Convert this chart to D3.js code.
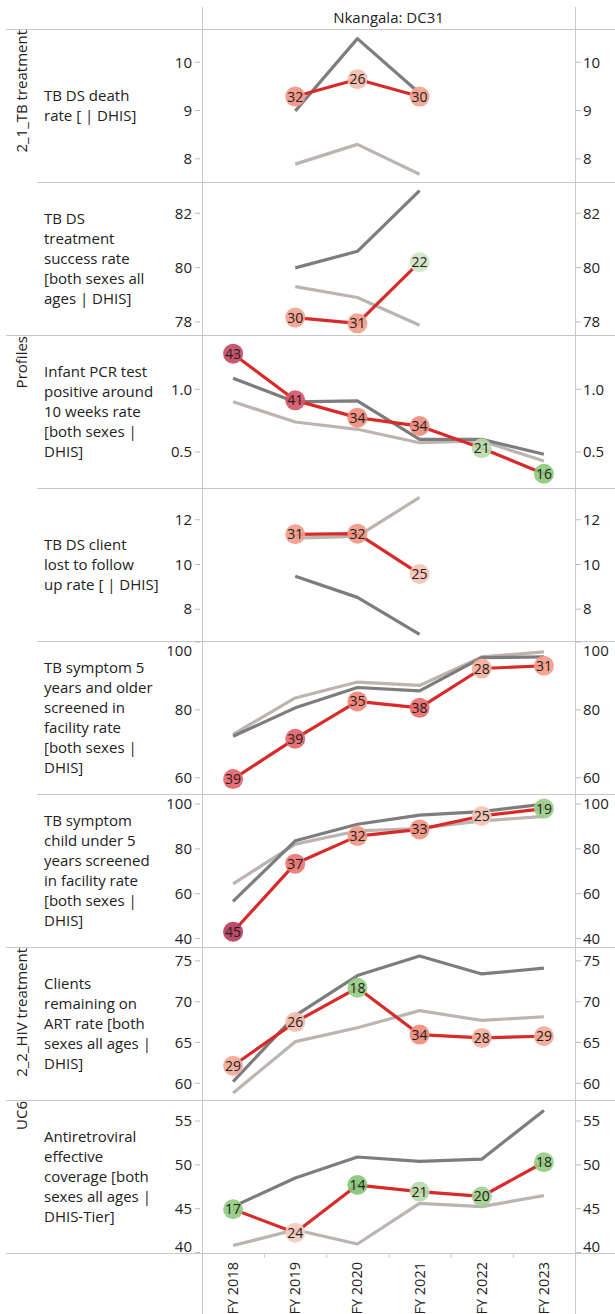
<!DOCTYPE html>
<html>
<head>
<meta charset="utf-8">
<script src="https://cdn.jsdelivr.net/npm/d3@7"></script>
<style>
  body { margin: 0; background: #fff; }
  text { font-family: "Open Sans", sans-serif; fill: #222; }
</style>
</head>
<body>
<script>
// categories
var years = ["FY 2018", "FY 2019", "FY 2020", "FY 2021", "FY 2022", "FY 2023"];
var title = "Nkangala: DC31";

// row labels, already broken into lines like the original
var indicatorLines = [
  ["TB DS death", "rate [ | DHIS]"],
  ["TB DS", "treatment", "success rate", "[both sexes all", "ages | DHIS]"],
  ["Infant PCR test", "positive around", "10 weeks rate", "[both sexes |", "DHIS]"],
  ["TB DS client", "lost to follow", "up rate [ | DHIS]"],
  ["TB symptom 5", "years and older", "screened in", "facility rate", "[both sexes |", "DHIS]"],
  ["TB symptom", "child under 5", "years screened", "in facility rate", "[both sexes |", "DHIS]"],
  ["Clients", "remaining on", "ART rate [both", "sexes all ages |", "DHIS]"],
  ["Antiretroviral", "effective", "coverage [both", "sexes all ages |", "DHIS-Tier]"]
];

var groupNames = ["2_1_TB treatment", "Profiles", "2_2_HIV treatment", "UC6"];
var groupStart = [0, 2, 6, 7];
var groupEnd = [2, 6, 7, 8];

// district (red line)
var district = [
  [null, 9.29, 9.65, 9.29, null, null],
  [null, 78.16, 77.95, 80.2, null, null],
  [1.284, 0.912, 0.774, 0.707, 0.53, 0.327],
  [null, 11.35, 11.38, 9.58, null, null],
  [59.6, 71.5, 82.5, 80.6, 92.2, 93.0],
  [43.0, 73.4, 85.7, 88.7, 94.7, 98.0],
  [62.15, 67.5, 71.7, 65.97, 65.56, 65.76],
  [44.94, 42.27, 47.7, 46.95, 46.4, 50.3]
];

// province (dark grey line)
var province = [
  [null, 8.99, 10.49, 9.36, null, null],
  [null, 79.99, 80.6, 82.83, null, null],
  [1.088, 0.899, 0.907, 0.601, 0.601, 0.482],
  [null, 9.47, 8.53, 6.88, null, null],
  [72.2, 80.6, 86.6, 85.6, 95.4, 95.6],
  [56.6, 83.6, 91.0, 95.1, 96.6, 100.0],
  [60.2, 68.3, 73.2, 75.6, 73.4, 74.1],
  [45.24, 48.5, 50.9, 50.4, 50.65, 56.2]
];

// national (light grey line)
var national = [
  [null, 7.89, 8.30, 7.68, null, null],
  [null, 79.3, 78.9, 77.88, null, null],
  [0.901, 0.739, 0.681, 0.574, 0.588, 0.428],
  [null, 11.18, 11.26, 13.0, null, null],
  [72.8, 83.5, 88.2, 87.2, 95.6, 97.1],
  [64.4, 82.1, 88.0, 89.1, 92.5, 94.5],
  [58.8, 65.1, 66.8, 68.9, 67.7, 68.15],
  [40.8, 42.6, 40.98, 45.6, 45.24, 46.5]
];

// district rank shown in the circles
var ranks = [
  [null, 32, 26, 30, null, null],
  [null, 30, 31, 22, null, null],
  [43, 41, 34, 34, 21, 16],
  [null, 31, 32, 25, null, null],
  [39, 39, 35, 38, 28, 31],
  [45, 37, 32, 33, 25, 19],
  [29, 26, 18, 34, 28, 29],
  [17, 24, 14, 21, 20, 18]
];

// axis ranges and tick labels per row
var yDomains = [
  [7.52, 10.69], [77.52, 83.15], [0.213, 1.433], [6.58, 13.42],
  [55.2, 100.3], [36.2, 104.5], [57.95, 76.7], [39.95, 57.4]
];
var yTicks = [
  [8, 9, 10], [78, 80, 82], [0.5, 1.0], [8, 10, 12],
  [60, 80, 100], [40, 60, 80, 100], [60, 65, 70, 75], [40, 45, 50, 55]
];
var tickFormats = ["d", "d", ".1f", "d", "d", "d", "d", "d"];

// layout
var W = 615, H = 1314;
var plotLeft = 202, plotRight = 575;
var top0 = 29, rowH = 153;
var bottom = top0 + rowH * indicatorLines.length;
var gridColor = "#c8c8c8";

var svg = d3.select("body").append("svg")
    .attr("width", W)
    .attr("height", H);

svg.append("rect").attr("width", W).attr("height", H).attr("fill", "#fff");

var x = d3.scaleBand()
    .domain(years)
    .range([plotLeft, plotRight])
    .padding(0);
var cx = function(i) { return x(years[i]) + x.bandwidth() / 2; };

var rankColor = d3.scaleLinear()
    .domain([14, 20, 22.5, 24, 27, 31, 35, 39, 45])
    .range(["#86c676", "#9dd08d", "#e0ebd5", "#f3cdbf", "#f7b5a3", "#f39c8a", "#ef8677", "#e5646b", "#b83d60"]);

// header
svg.append("text")
    .attr("x", (plotLeft + plotRight) / 2)
    .attr("y", 23)
    .attr("text-anchor", "middle")
    .attr("font-size", "15px")
    .text(title);

// horizontal separators
var groupTops = groupStart.map(function(s) { return s; });
for (var r = 0; r <= indicatorLines.length; r++) {
  var isGroup = r === 0 || r === indicatorLines.length || groupStart.indexOf(r) >= 0;
  svg.append("line")
      .attr("x1", isGroup ? 6 : 37)
      .attr("x2", W)
      .attr("y1", top0 + rowH * r + 0.5)
      .attr("y2", top0 + rowH * r + 0.5)
      .attr("stroke", gridColor);
}

// vertical pane borders
[plotLeft, plotRight].forEach(function(xx) {
  svg.append("line")
      .attr("x1", xx + 0.5).attr("x2", xx + 0.5)
      .attr("y1", 7).attr("y2", H)
      .attr("stroke", gridColor);
});

// group labels
groupNames.forEach(function(g, i) {
  svg.append("text")
      .attr("transform", "translate(22," + (top0 + rowH * groupStart[i] + 1) + ") rotate(-90)")
      .attr("text-anchor", "end")
      .attr("dy", "0.35em")
      .attr("font-size", "15px")
      .text(g);
});

var lineW = 3.2;

indicatorLines.forEach(function(lines, r) {
  var yTop = top0 + rowH * r, yBot = yTop + rowH;
  var y = d3.scaleLinear().domain(yDomains[r]).range([yBot, yTop]);
  var fmt = d3.format(tickFormats[r]);

  // row label
  var lh = 20;
  var startY = yTop + rowH / 2 - (lines.length - 1) * lh / 2;
  var lbl = svg.append("text")
      .attr("x", 44)
      .attr("font-size", "15px");
  lines.forEach(function(l, k) {
    lbl.append("tspan")
        .attr("x", 44)
        .attr("y", startY + k * lh)
        .attr("dy", "0.35em")
        .text(l);
  });

  // axes, left and right
  yTicks[r].forEach(function(t) {
    var ty = y(t);
    var ly = Math.max(yTop + 10, Math.min(yBot - 6, ty));
    if (ty >= yTop && ty <= yBot) {
      svg.append("line").attr("x1", 195).attr("x2", 200)
          .attr("y1", ty).attr("y2", ty).attr("stroke", "#bbb");
      svg.append("line").attr("x1", 576).attr("x2", 581)
          .attr("y1", ty).attr("y2", ty).attr("stroke", "#bbb");
    }
    svg.append("text")
        .attr("x", 192).attr("y", ly).attr("dy", "0.35em")
        .attr("text-anchor", "end").attr("font-size", "15px")
        .text(fmt(t));
    svg.append("text")
        .attr("x", 583).attr("y", ly).attr("dy", "0.35em")
        .attr("text-anchor", "start").attr("font-size", "15px")
        .text(fmt(t));
  });

  var line = d3.line()
      .defined(function(d) { return d != null; })
      .x(function(d, i) { return cx(i); })
      .y(function(d) { return y(d); });

  var g = svg.append("g");
  g.append("path").datum(national[r])
      .attr("d", line).attr("fill", "none")
      .attr("stroke", "#bcb4b0").attr("stroke-width", lineW)
      .attr("stroke-linejoin", "round");
  g.append("path").datum(province[r])
      .attr("d", line).attr("fill", "none")
      .attr("stroke", "#7d7d7d").attr("stroke-width", lineW)
      .attr("stroke-linejoin", "round");
  g.append("path").datum(district[r])
      .attr("d", line).attr("fill", "none")
      .attr("stroke", "#d92a2a").attr("stroke-width", lineW)
      .attr("stroke-linejoin", "round");

  var pts = district[r].map(function(v, i) { return {v: v, i: i, rank: ranks[r][i]}; })
      .filter(function(d) { return d.v != null; });

  g.selectAll("circle")
      .data(pts)
    .enter().append("circle")
      .attr("cx", function(d) { return cx(d.i); })
      .attr("cy", function(d) { return y(d.v); })
      .attr("r", 10)
      .attr("fill", function(d) { return rankColor(d.rank); })
      .attr("fill-opacity", 0.92);

  g.selectAll("text.rank")
      .data(pts)
    .enter().append("text")
      .attr("class", "rank")
      .attr("x", function(d) { return cx(d.i); })
      .attr("y", function(d) { return y(d.v); })
      .attr("dy", "0.36em")
      .attr("text-anchor", "middle")
      .attr("font-size", "14px")
      .text(function(d) { return d.rank; });
});

// x axis under the last row
years.forEach(function(yr, i) {
  svg.append("text")
      .attr("transform", "translate(" + cx(i) + "," + (bottom + 9) + ") rotate(-90)")
      .attr("text-anchor", "end")
      .attr("dy", "0.35em")
      .attr("font-size", "14.5px")
      .text(yr);
  if (i > 0) {
    svg.append("line")
        .attr("x1", x(yr) + 0.5).attr("x2", x(yr) + 0.5)
        .attr("y1", bottom + 1).attr("y2", bottom + 5)
        .attr("stroke", "#ccc");
  }
});
</script>
</body>
</html>
